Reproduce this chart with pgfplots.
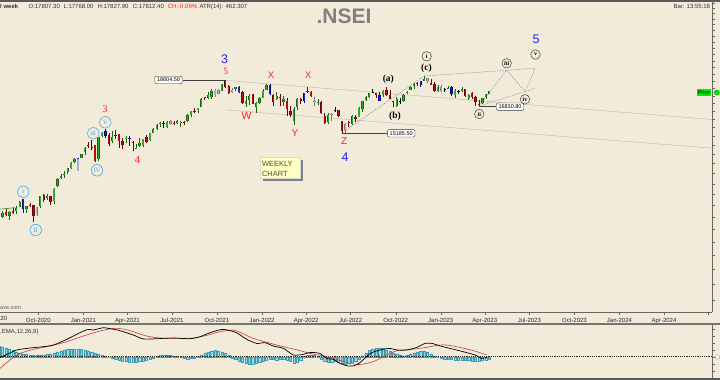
\documentclass[border=0pt]{standalone}
\usepackage{pgfplots}
\usepackage{pgfplotstable}
\pgfplotsset{compat=1.18}
\usepackage{fontspec}
\setmainfont{Liberation Sans}
\newfontfamily\tms{Liberation Serif}
\definecolor{bg}{RGB}{243,235,218}
\definecolor{upD}{RGB}{20,100,20}
\definecolor{upL}{RGB}{50,170,50}
\definecolor{dnD}{RGB}{110,0,0}
\definecolor{dnL}{RGB}{165,20,20}
\definecolor{blD}{RGB}{0,0,130}
\definecolor{blL}{RGB}{30,30,210}
\definecolor{gyD}{RGB}{120,120,120}
\definecolor{gyL}{RGB}{175,175,175}
\definecolor{lav}{RGB}{170,170,220}
\definecolor{chan}{RGB}{195,190,180}
\definecolor{redlab}{RGB}{240,40,40}
\definecolor{bluelab}{RGB}{35,35,240}
\definecolor{cyanl}{RGB}{60,170,235}
\definecolor{histF}{RGB}{150,215,228}
\definecolor{histD}{RGB}{60,155,175}
\definecolor{macdR}{RGB}{200,60,60}
\definecolor{boxY}{RGB}{255,255,192}
\definecolor{priceG}{RGB}{0,235,0}

\pgfplotsset{
 cw-u/.style={draw=upD, line width=0.55pt}, co-u/.style={draw=upD, line width=2.3pt}, ci-u/.style={draw=upL, line width=1.2pt},
 cw-d/.style={draw=dnD, line width=0.55pt}, co-d/.style={draw=dnD, line width=2.3pt}, ci-d/.style={draw=dnL, line width=1.2pt},
 cw-b/.style={draw=blD, line width=0.55pt}, co-b/.style={draw=blD, line width=2.3pt}, ci-b/.style={draw=blL, line width=1.2pt},
 cw-g/.style={draw=gyD, line width=0.55pt}, co-g/.style={draw=gyD, line width=2.3pt}, ci-g/.style={draw=gyL, line width=1.2pt},
 cw-k/.style={draw=black, line width=0.55pt}, co-k/.style={draw=black, line width=2.3pt}, ci-k/.style={draw=black, line width=1.2pt},
 cw-p/.style={draw=lav, line width=1.4pt}, co-p/.style={draw=blD, line width=2.3pt}, ci-p/.style={draw=blL, line width=1.2pt},
 dsh/.style={draw=black!45, line width=0.5pt, dash pattern=on 1.5pt off 1.2pt},
}

\pgfplotstableread{
d o h l c t
194 10851 10933 10562 10902 u
201 10999 11239 10956 11194 u
208 11225 11341 11026 11073 d
215 11058 11256 10882 11214 u
222 11271 11373 11112 11178 d
229 11248 11460 11144 11372 u
236 11418 11686 11418 11647 u
243 11777 11794 11185 11333 b
250 11359 11493 11185 11464 u
257 11540 11618 11413 11505 d
264 11504 11535 10790 11050 d
271 11140 11451 11058 11417 g
278 11487 11939 11386 11914 u
285 11973 12025 11661 11762 d
292 11839 12018 11738 11930 u
299 11937 11942 11535 11642 d
306 11697 12280 11557 12264 u
313 12399 12770 12367 12720 u
320 12780 12963 12730 12860 u
327 12906 13145 12790 12969 u
334 13062 13280 12962 13259 u
341 13264 13580 13242 13514 u
348 13571 13773 13535 13761 u
355 13741 13778 13132 13770 p
362 13815 14025 13771 13982 u
369 14104 14367 13953 14347 u
376 14474 14654 14357 14433 d
383 14371 14754 14222 14400 b
390 14477 14491 13596 13635 d
397 13758 14977 13662 14924 u
404 14999 15257 14976 15163 u
411 15270 15432 14906 14982 b
418 15065 15176 14468 14529 d
425 14702 15273 14632 14938 u
432 15064 15336 14863 15031 d
439 15103 15113 14350 14744 d
446 14737 14878 14264 14507 d
453 14817 14984 14616 14867 u
460 14837 14984 14459 14870 b
467 14644 14697 14151 14617 d
474 14306 14529 14273 14341 u
481 14449 14894 14416 14631 u
488 14481 14863 14417 14823 u
495 14928 15044 14591 14678 d
502 14756 15189 14724 15175 u
509 15211 15469 15163 15436 u
516 15437 15705 15374 15670 u
523 15725 15835 15563 15799 u
530 15791 15901 15450 15760 b
537 15525 15903 15505 15860 u
544 15915 15935 15636 15722 g
551 15793 15915 15635 15690 d
558 15766 15952 15707 15924 u
565 15754 15881 15513 15856 u
572 15840 15880 15632 15763 d
579 15874 16349 15834 16238 u
586 16288 16543 16162 16529 u
593 16518 16701 16395 16450 d
600 16592 16722 16376 16705 u
607 16775 17340 16765 17324 u
614 17399 17429 17254 17369 d
621 17363 17792 17270 17585 u
628 17443 17947 17327 17853 u
635 17932 17948 17452 17532 g
642 17615 17941 17613 17895 g
649 17867 18350 17865 18338 u
656 18500 18604.5 18034 18115 d
663 18188 18242 17613 17672 d
670 17784 18012 17697 17916 g
677 17967 18123 17836 18102 u
684 18141 18210 17688 17765 b
691 17796 17806 17000 17026 d
698 16946 17489 16782 17196 u
705 17209 17640 16891 17511 u
712 17619 17639 16966 16985 d
719 16773 17119 16410 17004 u
726 17017 17400 16937 17354 u
733 17387 17945 17384 17812 u
740 17913 18286 17879 18256 u
747 18235 18350 17581 17617 b
754 17575 17599 16837 17102 d
761 17301 17794 17244 17516 u
768 17456 17640 16810 17375 d
775 17076 17491 16839 17276 u
782 17193 17351 16203 16658 d
789 16516 16815 16133 16246 d
796 15867 16757 15671 16630 u
803 16757 17344 16555 17287 u
810 17329 17353 16997 17153 d
817 17181 17703 17006 17670 b
824 17809 18114 17717 17784 d
831 17741 17842 17442 17476 d
838 17183 17414 16824 17172 g
845 17009 17322 16889 17102 u
852 17094 17132 16341 16411 d
859 16227 16404 15736 15782 d
866 15845 16400 15740 16266 u
873 16290 16414 15903 16352 g
880 16578 16794 16444 16600 k
887 16570 16610 16172 16202 d
894 15877 15886 15183 15293 d
901 15335 15749 15191 15699 g
908 15822 15927 15511 15752 d
915 15710 16275 15661 16220 u
922 16127 16248 15858 16049 d
929 16151 16752 16143 16719 u
936 16662 17172 16438 17158 u
943 17243 17490 17154 17398 u
950 17401 17719 17359 17698 u
957 17797 17992 17710 17770 k
964 17682 17726 17345 17559 d
971 17188 17777 17167 17539 b
978 17546 17925 17429 17833 u
985 17890 18096 17500 17531 d
992 17540 17919 17291 17327 d
999 17156 17196 16748 17094 d
1006 16819 17428 16793 17315 u
1013 17160 17348 16950 17186 k
1020 17144 17607 17098 17576 u
1027 17736 17838 17637 17787 u
1034 17910 18176 17899 18117 u
1041 18211 18362 17969 18350 u
1048 18376 18443 18209 18308 d
1055 18246 18529 18133 18512 b
1062 18557 18888 18557 18696 u
1069 18719 18778 18410 18497 g
1076 18402 18696 18255 18269 d
1083 18288 18473 17774 17807 d
1090 17830 18265 17775 18105 u
1097 18131 18252 17795 17859 g
1104 17930 18049 17774 17957 k
1111 17999 18202 17985 18028 u
1118 18118 18202 17493 17604 b
1125 17541 17972 17353 17854 u
1132 17830 17916 17652 17856 k
1139 17859 18134 17761 17944 u
1146 17965 17972 17455 17466 d
1153 17383 17645 17255 17594 u
1160 17680 17799 17324 17413 d
1167 17421 17529 16850 17100 d
1174 16989 17207 16828 16945 d
1181 17016 17381 16940 17360 u
1188 17428 17638 17312 17599 u
1195 17634 17842 17598 17812 u
}\ohlc

\pgfplotstableread{
d v
194 11
201 10
208 9
215 8
222 7
229 5
236 4
243 3
250 3
257 2
264 1.5
271 1.5
278 2
285 2
292 2.5
299 3
306 4
313 5
320 6
327 7
334 7.5
341 8
348 8
355 8
362 7.5
369 7
376 6
383 5
390 3.5
397 2.5
404 2
411 1
418 0
425 -1
432 -2
439 -3
446 -4
453 -4.5
460 -5
467 -5
474 -5
481 -4.5
488 -4
495 -3
502 -2
509 -1
516 0.5
523 1.5
530 2
537 2
544 1.5
551 1
558 0.5
565 -0.5
572 -1.5
579 -2
586 -1.5
593 -1
600 0.5
607 2
614 3.5
621 5
628 6
635 6.5
642 6
649 5
656 3.5
663 1.5
670 -1
677 -2.5
684 -4
691 -5.5
698 -6.5
705 -7
712 -7
719 -6.5
726 -5.5
733 -4.5
740 -3
747 -2.5
754 -2.5
761 -3
768 -2.5
775 -2
782 -3
789 -4.5
796 -6
803 -5
810 -3
817 0.5
824 1.5
831 2
838 1.5
845 0.5
852 -2
859 -4
866 -5
873 -5
880 -4.5
887 -5
894 -6.5
901 -7
908 -6.5
915 -5
922 -4
929 -2
936 1
943 4
950 6.5
957 8
964 8.5
971 9
978 8.5
985 7
992 5.5
999 4
1006 3
1013 2
1020 1
1027 1.5
1034 3
1041 4
1048 5
1055 5.5
1062 5.5
1069 4.5
1076 3
1083 1
1090 0
1097 -1
1104 -2
1111 -2
1118 -2.5
1125 -3
1132 -3
1139 -3
1146 -3.5
1153 -3.5
1160 -4
1167 -4
1174 -4
1181 -3.5
1188 -3
1195 -2.5
}\hist

\pgfplotstablegetrowsof{\ohlc}
\pgfmathtruncatemacro{\lastrow}{\pgfplotsretval-1}

\newcommand{\hdr}{\fontsize{6}{7}\selectfont}
\newcommand{\cyc}[3]{\node[circle,draw=cyanl,line width=0.6pt,inner sep=0pt,minimum size=11.5pt,text=cyanl,font=\tms\fontsize{6.5}{7}\selectfont] at (#1,#2) {#3};}
\newcommand{\bkc}[3]{\node[circle,draw=black!75,line width=0.5pt,inner sep=0pt,minimum size=9.5pt,text=black,font=\tms\bfseries\fontsize{6}{7}\selectfont] at (#1,#2) {#3};}
\newcommand{\lbox}[3]{\node[draw=black!80,fill=white,rounded corners=2pt,line width=0.4pt,inner xsep=2.3pt,inner ysep=1.8pt,font=\fontsize{5.5}{6}\selectfont] at (#1,#2) {#3};}

\begin{document}
\begin{tikzpicture}[x=1pt,y=-1pt]
\useasboundingbox (0,0) rectangle (720,380);
\fill[bg] (0,0) rectangle (720,380);

% ---------------- main price panel
\begin{axis}[
 at={(0pt,-312pt)}, anchor=south west,
 width=712pt, height=310pt, scale only axis,
 xmin=195.8, xmax=1650, ymode=log, ymin=7648, ymax=25084,
 axis x line*=bottom, axis y line*=right,
 axis line style={-, draw=black!60, line width=0.6pt},
 xtick={274,366,456,547,639,731,821,912,1004,1096,1186,1277,1369,1461,1552,1643},
 xticklabels={Oct-2020,Jan-2021,Apr-2021,Jul-2021,Oct-2021,Jan-2022,Apr-2022,Jul-2022,Oct-2022,Jan-2023,Apr-2023,Jul-2023,Oct-2023,Jan-2024,Apr-2024,{}},
 xticklabel style={font=\hdr, text=black!85},
 ytick={8000,8500,9000,9500,10000,10500,11000,11500,12000,12500,13000,13500,14000,14500,15000,15500,16000,16500,17000,17500,18000,18500,19000,19500,20000,20500,21000,21500,22000,22500,23000,23500,24000,24500,25000},
 yticklabels={},
 tick style={draw=black!60, line width=0.4pt},
 major tick length=3pt, tick align=outside,
]
\addplot[chan, line width=0.5pt] coordinates {(659.4,18569) (1650,15992)};
\addplot[chan, line width=0.5pt] coordinates {(658.8,16584) (1650,14326)};
\addplot[black!75, line width=0.5pt] coordinates {(569,18604.5) (656,18604.5)};
\addplot[black!75, line width=0.5pt] coordinates {(894,15185.5) (987,15185.5)};
\addplot[black!75, line width=0.5pt] coordinates {(1174,16830.8) (1209,16830.8)};
\addplot[green!55!black, line width=0.5pt] coordinates {(195.8,11336) (226.4,11406)};
\addplot[dsh] coordinates {(894,15183) (1062,18888)};
\addplot[dsh] coordinates {(1062,18888) (1288.5,19458)};
\addplot[dsh] coordinates {(1174,16828) (1230.7,19331) (1268.1,17789) (1288.5,19458)};
\addplot[dsh] coordinates {(1174,16828) (1288.5,18022)};
\pgfplotsforeachungrouped \rowidx in {0,...,\lastrow}{%
 \pgfplotstablegetelem{\rowidx}{d}\of\ohlc\edef\Cd{\pgfplotsretval}%
 \pgfplotstablegetelem{\rowidx}{o}\of\ohlc\edef\Co{\pgfplotsretval}%
 \pgfplotstablegetelem{\rowidx}{h}\of\ohlc\edef\Ch{\pgfplotsretval}%
 \pgfplotstablegetelem{\rowidx}{l}\of\ohlc\edef\Cl{\pgfplotsretval}%
 \pgfplotstablegetelem{\rowidx}{c}\of\ohlc\edef\Cc{\pgfplotsretval}%
 \pgfplotstablegetelem{\rowidx}{t}\of\ohlc\edef\Ct{\pgfplotsretval}%
 \edef\tmp{%
  \noexpand\addplot[cw-\Ct] coordinates {(\Cd,\Cl) (\Cd,\Ch)};%
  \noexpand\addplot[co-\Ct] coordinates {(\Cd,\Co) (\Cd,\Cc)};%
  \noexpand\addplot[ci-\Ct] coordinates {(\Cd,\Co) (\Cd,\Cc)};%
 }\tmp
}
\end{axis}

% ---------------- MACD panel
\begin{axis}[
 at={(0pt,-378pt)}, anchor=south west,
 width=712pt, height=53pt, scale only axis,
 xmin=195.8, xmax=1650, ymin=-21.3, ymax=31.7,
 axis x line*=bottom, axis y line*=right,
 axis line style={-, draw=black!60, line width=0.6pt},
 xtick=\empty,
 ytick={-21,-14,-7,0,7,14,21,28}, yticklabels={},
 tick style={draw=black!60, line width=0.4pt},
 major tick length=3pt, tick align=outside,
]
\addplot[ybar, bar width=2.2pt, fill=histF, draw=histD, line width=0.3pt] table[x=d,y=v]{\hist};
\addplot[black!85, dash pattern=on 1.2pt off 1pt, line width=0.45pt] coordinates {(195.8,0) (1650,0)};
\addplot[macdR, line width=0.6pt, smooth, tension=0.4] coordinates {(196,-11.7) (216,-3.3) (237,3.3) (264,7.3) (298,10.7) (332,15) (366,20.7) (400,25.7) (427,28.3) (448,27.7) (468,25) (495,20.7) (523,18.7) (557,18.3) (591,18.7) (618,21.3) (645,25) (672,26.7) (693,22.7) (713,18.3) (741,14.3) (775,10) (809,6) (829,3.3) (856,0.7) (884,-2.7) (911,-6.7) (931,-7.8) (958,-5) (986,1.7) (1006,6) (1033,7.3) (1067,9.3) (1088,11.3) (1108,11.7) (1135,9.3) (1163,6) (1190,1.7)};
\addplot[black, line width=0.7pt, smooth, tension=0.4] coordinates {(196,-0.7) (210,2.3) (230,6.7) (257,8.7) (284,10) (305,11.7) (332,17.3) (359,24) (376,27.3) (386,26.7) (407,29) (421,28) (441,26) (468,21.7) (489,17.7) (516,18) (550,18.7) (584,18) (604,20) (625,24) (649,27.3) (666,26) (679,24) (700,17.3) (720,13.3) (737,14) (754,10.7) (775,8.3) (795,1.7) (815,2.3) (829,4.3) (849,3.3) (863,-1.7) (877,-2.7) (890,-6.7) (904,-9) (917,-9.3) (931,-6) (952,3.3) (972,6.7) (992,8.3) (1006,6.7) (1027,6.7) (1047,9.3) (1064,13.3) (1078,13.3) (1095,10.7) (1115,8.3) (1142,5) (1166,1.7) (1180,-1.7) (1190,-0.7)};
\end{axis}

% ---------------- frame
\fill[black!65] (0,0) rectangle (720,1.5);
\fill[black!55] (0,322.5) rectangle (720,325);
\fill[black!65] (0,378.3) rectangle (720,380);
\fill[white,draw=black!50,line width=0.3pt] (717.5,357) circle (2.2);

% ---------------- header texts
\node[anchor=base west, font=\hdr\bfseries, text=black!80, inner sep=0] at (0,8.3) {l week};
\node[anchor=base west, font=\hdr, text=black!80, inner sep=0] at (28.3,8.3) {O:17807.30};
\node[anchor=base west, font=\hdr, text=black!80, inner sep=0] at (63.3,8.3) {L:17768.00};
\node[anchor=base west, font=\hdr, text=black!80, inner sep=0] at (97.3,8.3) {H:17827.90};
\node[anchor=base west, font=\hdr, text=black!80, inner sep=0] at (132.7,8.3) {C:17812.40};
\node[anchor=base west, font=\hdr, text=redlab, inner sep=0] at (167.7,8.3) {CH:-0.09\%};
\node[anchor=base west, font=\hdr, text=black!80, inner sep=0] at (199.3,8.3) {ATR(14): 462.307};
\node[anchor=base west, font=\bfseries\fontsize{21}{24}\selectfont, text=black!50, inner sep=0] at (316.3,23.3) {.NSEI};
\node[anchor=base west, font=\hdr, text=black!80, inner sep=0] at (673.3,8.3) {Bar: 13:55:18};
\node[anchor=base west, font=\hdr, text=black!85, inner sep=0] at (0.2,320.7) {20};
\node[anchor=base west, font=\fontsize{5.5}{6}\selectfont, text=black!65, inner sep=0] at (0,309) {ave.com};
\node[anchor=base west, font=\hdr, text=black!80, inner sep=0] at (0,333.5) {,EMA,12,26,9)};

% ---------------- price tag
\node[fill=priceG, inner xsep=1pt, inner ysep=1pt, font=\fontsize{5.5}{6}\selectfont] at (704,92.5) {Price};
\fill[priceG, draw=green!50!black, line width=0.3pt] (716.8,92.5) circle (2.6);

% ---------------- level boxes
\lbox{168.5}{80}{18604.50}
\lbox{401.2}{133.3}{15185.50}
\lbox{510}{106.7}{16830.80}

% ---------------- weekly chart box
\fill[black!50] (262.7,159.7) rectangle (302.7,180.5);
\fill[boxY, draw=white!85!black, line width=0.3pt] (260,157.2) rectangle (300,178);
\node[anchor=base west, font=\fontsize{7.5}{8}\selectfont, text=black!70, inner sep=0] at (261.8,166.5) {WEEKLY};
\node[anchor=base west, font=\fontsize{7.5}{8}\selectfont, text=black!70, inner sep=0] at (261.8,176) {CHART};

% ---------------- wave labels
\node[font=\fontsize{12.5}{13}\selectfont, text=bluelab] at (224.5,59) {3};
\node[font=\fontsize{12.5}{13}\selectfont, text=bluelab] at (536,39.5) {5};
\node[font=\fontsize{12.5}{13}\selectfont, text=bluelab] at (345,157.5) {4};
\node[font=\tms\fontsize{9.5}{10}\selectfont, text=redlab] at (225.7,71.5) {5};
\node[font=\tms\fontsize{10.5}{11}\selectfont, text=redlab] at (105,109.5) {3};
\node[font=\tms\fontsize{11}{12}\selectfont, text=redlab] at (137.3,159.5) {4};
\node[font=\fontsize{9.5}{10}\selectfont, text=redlab] at (271,75) {X};
\node[font=\fontsize{9.5}{10}\selectfont, text=redlab] at (308.3,75.7) {X};
\node[font=\fontsize{10.5}{11}\selectfont, text=redlab] at (246.7,115.5) {W};
\node[font=\fontsize{10}{11}\selectfont, text=redlab] at (295,133) {Y};
\node[font=\fontsize{10}{11}\selectfont, text=redlab] at (344.3,141.2) {Z};
\node[font=\tms\bfseries\fontsize{9.5}{10}\selectfont, text=black] at (388.3,79.5) {(a)};
\node[font=\tms\bfseries\fontsize{9.5}{10}\selectfont, text=black] at (395,115.8) {(b)};
\node[font=\tms\bfseries\fontsize{9.5}{10}\selectfont, text=black] at (426.5,68.5) {(c)};
\bkc{426.7}{56.3}{i}
\bkc{479.3}{114}{ii}
\bkc{506.7}{63.3}{iii}
\bkc{525}{99.3}{iv}
\bkc{535.5}{54.5}{v}
\cyc{23.3}{191.7}{i}
\cyc{35.7}{230}{II}
\cyc{93.3}{133.3}{iii}
\cyc{97}{170.3}{IV}
\cyc{105.3}{122.3}{V}
\end{tikzpicture}
\end{document}
